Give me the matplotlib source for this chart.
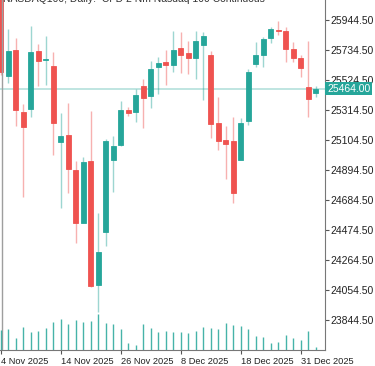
import matplotlib
matplotlib.use('Agg')
import matplotlib.pyplot as plt
import numpy as np

plt.rcParams['font.family'] = ['Liberation Sans', 'DejaVu Sans']

# Daily OHLC, 4 Nov 2025 .. 5 Jan 2026
opens = [26160, 25552, 25734, 25298, 25321, 25727, 25664, 25622, 25093, 25139,
         24894, 24521, 24957, 24089, 24463, 24965, 25070, 25314, 25303, 25483,
         25412, 25613, 25650, 25629, 25751, 25711, 25676, 25769, 25697, 25223,
         25104, 25097, 24962, 25240, 25636, 25699, 25816, 25874, 25867, 25741,
         25676, 25478, 25434]
highs = [26200, 25879, 25821, 25354, 25903, 25774, 25832, 25723, 25291, 25361,
         24958, 24988, 25308, 24591, 25110, 25132, 25378, 25333, 25462, 25531,
         25657, 25683, 25734, 25867, 25858, 25797, 25867, 25863, 25727, 25408,
         25202, 25268, 25258, 25601, 25793, 25823, 25893, 25938, 25898, 25788,
         25699, 25800, 25482]
lows = [25560, 25506, 25202, 24708, 25268, 25482, 25490, 24999, 24626, 24736,
        24381, 24580, 24075, 23903, 24362, 24743, 25062, 25275, 25233, 25191,
        25326, 25424, 25489, 25583, 25571, 25566, 25529, 25384, 25116, 25034,
        24829, 24661, 25069, 25210, 25613, 25613, 25781, 25839, 25653, 25653,
        25543, 25268, 25408]
closes = [25580, 25730, 25315, 25198, 25722, 25657, 25664, 25222, 25133, 24902,
          24521, 24953, 24082, 24318, 25100, 25063, 25314, 25296, 25419, 25396,
          25602, 25646, 25627, 25734, 25702, 25676, 25800, 25835, 25215, 25099,
          25076, 24731, 25221, 25578, 25699, 25811, 25879, 25867, 25741, 25676,
          25610, 25391, 25464]
volumes = [200, 207, 123, 230, 183, 190, 217, 283, 310, 260,
           297, 283, 293, 357, 273, 263, 210, 70, 50, 260,
           217, 183, 193, 180, 177, 167, 190, 227, 217, 210,
           270, 250, 240, 207, 140, 127, 67, 80, 150, 123,
           103, 190, 30]

tick_idx = [0, 8, 16, 24, 32, 40]
tick_labels = ['4 Nov 2025', '14 Nov 2025', '26 Nov 2025', '8 Dec 2025',
               '18 Dec 2025', '31 Dec 2025']
price_ticks = [23844.5, 24054.5, 24264.5, 24474.5, 24684.5, 24894.5,
               25104.5, 25314.5, 25524.5, 25734.5, 25944.5]
last_price = 25464.00

UP = '#26a69a'
DOWN = '#ef5350'

fig = plt.figure(figsize=(3.75, 3.66), dpi=100)
ax = fig.add_axes([0, 16 / 366, 325 / 375, 350 / 366])

x = np.arange(len(opens))
for i in x:
    o, h, l, c = opens[i], highs[i], lows[i], closes[i]
    col = UP if c >= o else DOWN
    ax.vlines(i, l, h, color=col, alpha=0.45, lw=1.0, zorder=2)
    lo, hi = min(o, c), max(o, c)
    ax.bar(i, max(hi - lo, 7), bottom=lo, width=0.68, color=col,
           edgecolor=col, linewidth=0.6, zorder=3)

ax.axhline(last_price, color=UP, alpha=0.35, lw=1.2, zorder=1)
ax.axvline(0.15, color='#9e9e9e', lw=1.0, zorder=4)

ax.set_xlim(-0.107, 43.23)
ax.set_ylim(23634.5, 26084.5)

# volume on its own scale, bottom of the pane
vax = ax.twinx()
vax.vlines(x, 0, volumes, color=UP, lw=1.0, alpha=0.85)
vax.set_ylim(0, 3500)
vax.set_yticks([])
vax.set_xlim(ax.get_xlim())

ax.yaxis.tick_right()
ax.set_yticks(price_ticks)
ax.set_yticklabels([f'{p:.2f}' for p in price_ticks])
ax.tick_params(axis='y', length=3, width=0.8, color='#555555', labelsize=7.5,
               pad=1, labelcolor='#222222')
ax.set_xticks(tick_idx)
ax.set_xticklabels(tick_labels, ha='left')
ax.tick_params(axis='x', length=3, width=0.8, color='#555555', labelsize=6.7,
               pad=2, labelcolor='#222222')

for sp in ['top', 'left']:
    ax.spines[sp].set_visible(False)
    vax.spines[sp].set_visible(False)
vax.spines['right'].set_visible(False)
vax.spines['bottom'].set_visible(False)
ax.spines['right'].set_color('#777777')
ax.spines['bottom'].set_color('#777777')

# last price tag
ax.text(1.006, last_price, f'{last_price:.2f}', transform=ax.get_yaxis_transform(),
        ha='left', va='center', fontsize=7.5, color='white',
        bbox=dict(boxstyle='square,pad=0.15', fc=UP, ec='none'), zorder=10,
        clip_on=False)

fig.text(3 / 375, 1 - 1.5 / 366, 'NASDAQ100, Daily:  CFD 2 Nm Nasdaq 100 Continuous',
         fontsize=7.5, color='#333333', ha='left', va='baseline')

fig.savefig('out.png', dpi=100)
